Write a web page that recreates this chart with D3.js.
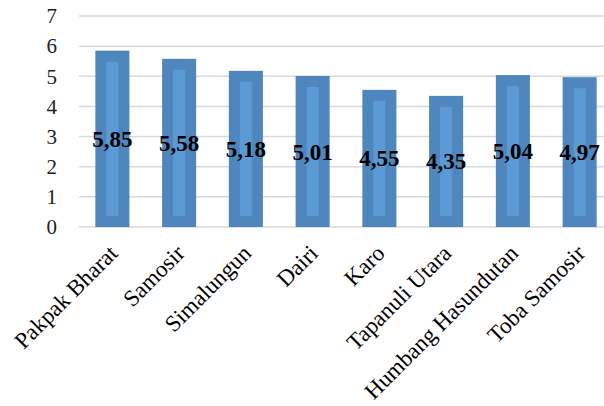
<!DOCTYPE html>
<html>
<head>
<meta charset="utf-8">
<script src="https://cdn.jsdelivr.net/npm/d3@7"></script>
<style>
  body { margin: 0; background: #fff; }
  svg { display: block; }
</style>
</head>
<body>
<div id="chart"></div>
<script>
const categories = ['Pakpak Bharat', 'Samosir', 'Simalungun', 'Dairi', 'Karo', 'Tapanuli Utara', 'Humbang Hasundutan', 'Toba Samosir'];
const values = [5.85, 5.58, 5.18, 5.01, 4.55, 4.35, 5.04, 4.97];
const valueLabels = ['5,85', '5,58', '5,18', '5,01', '4,55', '4,35', '5,04', '4,97'];
const yTicks = [0, 1, 2, 3, 4, 5, 6, 7];

const width = 604, height = 406;
const serif = '"Liberation Serif", "DejaVu Serif", serif';

const svg = d3.select('#chart')
    .append('svg')
    .attr('width', width)
    .attr('height', height);

const x = d3.scaleBand()
    .domain(categories)
    .range([79, 613])
    .paddingInner(0.49)
    .paddingOuter(0.245);

const y = d3.scaleLinear()
    .domain([0, 7])
    .range([227, 16]);

// gridlines
svg.append('g')
    .selectAll('line')
    .data(yTicks)
    .join('line')
    .attr('x1', 79)
    .attr('x2', width)
    .attr('y1', d => y(d))
    .attr('y2', d => y(d))
    .attr('stroke', '#d9d9d9')
    .attr('stroke-width', 1.5);

// y tick labels
svg.append('g')
    .selectAll('text')
    .data(yTicks)
    .join('text')
    .attr('x', 57)
    .attr('y', d => y(d))
    .attr('dy', '0.35em')
    .attr('text-anchor', 'end')
    .attr('font-family', serif)
    .attr('font-size', 21)
    .attr('fill', '#222')
    .text(d => d);

// bars with bevel
const inset = 11;
const bars = svg.append('g')
    .selectAll('g')
    .data(categories)
    .join('g');

bars.append('rect')
    .attr('x', d => x(d))
    .attr('y', (d, i) => y(values[i]))
    .attr('width', x.bandwidth())
    .attr('height', (d, i) => y(0) - y(values[i]))
    .attr('fill', '#4f86be');

bars.append('rect')
    .attr('x', d => x(d) + inset)
    .attr('y', (d, i) => y(values[i]) + inset)
    .attr('width', x.bandwidth() - inset * 2)
    .attr('height', (d, i) => y(0) - y(values[i]) - inset * 2)
    .attr('fill', '#5b9ad5');

// value labels
bars.append('text')
    .attr('x', d => x(d) + x.bandwidth() / 2)
    .attr('y', (d, i) => y(values[i] / 2))
    .attr('dy', '0.35em')
    .attr('text-anchor', 'middle')
    .attr('font-family', serif)
    .attr('font-weight', 'bold')
    .attr('font-size', 23)
    .attr('fill', '#000')
    .text((d, i) => valueLabels[i]);

// category labels
svg.append('g')
    .selectAll('text')
    .data(categories)
    .join('text')
    .attr('transform', d => `translate(${x(d) + x.bandwidth() / 2 + 1},${249}) rotate(-45)`)
    .attr('text-anchor', 'end')
    .attr('dy', '0.35em')
    .attr('font-family', serif)
    .attr('font-size', 23)
    .attr('fill', '#000')
    .text(d => d);
</script>
</body>
</html>
